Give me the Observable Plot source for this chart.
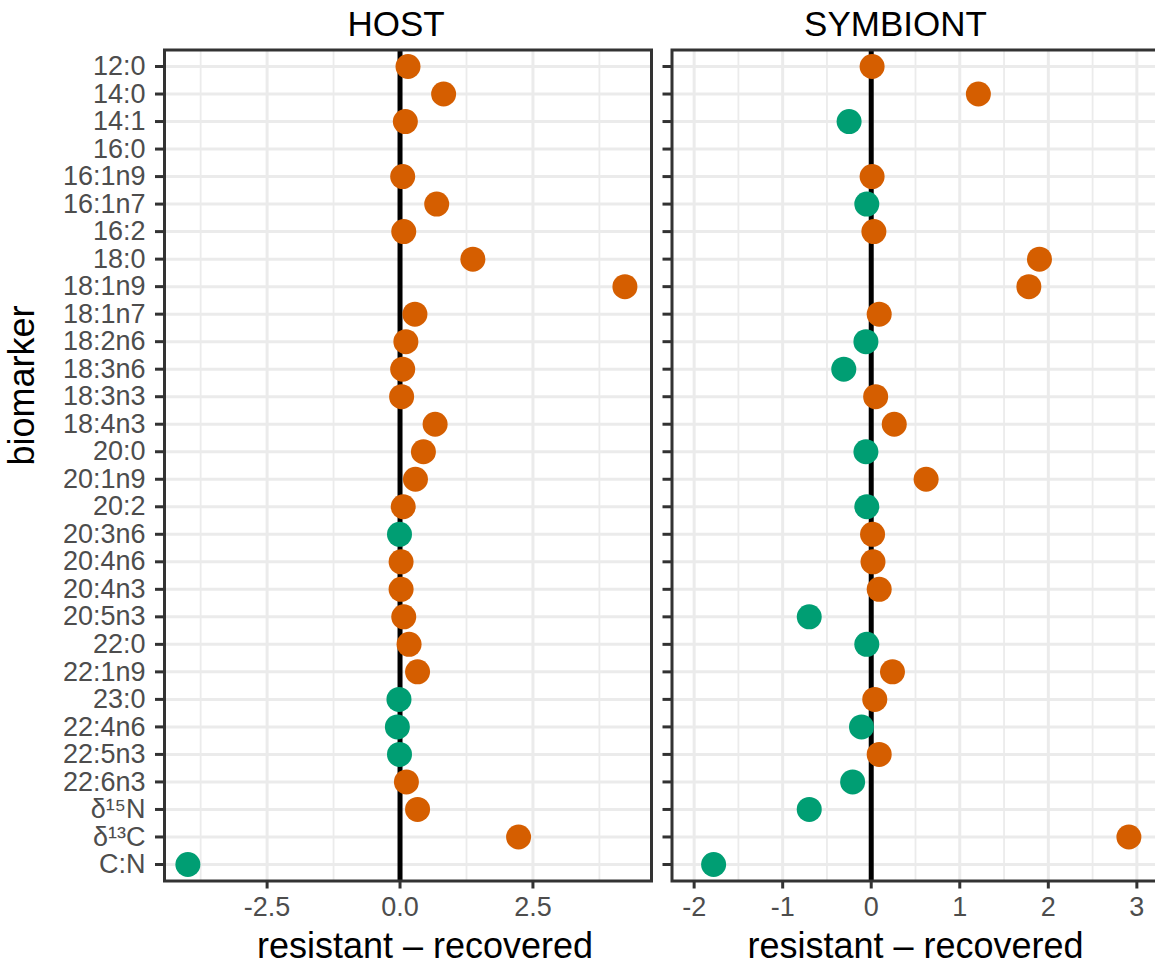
<!DOCTYPE html>
<html>
<head>
<meta charset="utf-8">
<script src="https://cdn.jsdelivr.net/npm/d3@7"></script>
<script src="https://cdn.jsdelivr.net/npm/@observablehq/plot@0.6"></script>
<style>
  html, body { margin: 0; padding: 0; background: #fff; overflow: hidden; }
  #wrap { position: relative; width: 1155px; height: 966px; overflow: hidden; background: #fff; }
  .panel { position: absolute; top: 0; height: 966px; }
  .panel svg { overflow: visible; max-width: none !important; }
  .panel [aria-label="y-axis tick label"], .panel [aria-label="x-axis tick label"] { fill: #4D4D4D; }
</style>
</head>
<body>
<div id="wrap">
  <div id="host" class="panel" style="left:0px; width:660px"></div>
  <div id="sym" class="panel" style="left:660px; width:505px"></div>
</div>
<script>
const biomarkers = ["12:0","14:0","14:1","16:0","16:1n9","16:1n7","16:2","18:0","18:1n9","18:1n7","18:2n6","18:3n6","18:3n3","18:4n3","20:0","20:1n9","20:2","20:3n6","20:4n6","20:4n3","20:5n3","22:0","22:1n9","23:0","22:4n6","22:5n3","22:6n3","δ¹⁵N","δ¹³C","C:N"];
const hostValues = [0.15,0.82,0.10,null,0.05,0.69,0.07,1.37,4.23,0.28,0.11,0.05,0.03,0.66,0.44,0.29,0.06,-0.01,0.02,0.02,0.07,0.17,0.33,-0.02,-0.05,-0.01,0.12,0.33,2.23,-3.99];
const symbiontValues = [0.01,1.21,-0.25,null,0.01,-0.05,0.03,1.90,1.78,0.09,-0.06,-0.31,0.05,0.26,-0.06,0.62,-0.05,0.015,0.02,0.09,-0.70,-0.05,0.24,0.04,-0.11,0.09,-0.21,-0.70,2.91,-1.78];
const panelTitles = ["HOST", "SYMBIONT"];
const xTitle = "resistant – recovered";
const yTitle = "biomarker";
const hostTicks = [-2.5, 0, 2.5];
const hostMinor = [-3.75, -1.25, 1.25, 3.75];
const symTicks = [-2, -1, 0, 1, 2, 3];
const symMinor = [-1.5, -0.5, 0.5, 1.5, 2.5];
const signCats = ["negative", "positive"];
const signColors = ["#009E73", "#D55E00"];

const FONT = "'Liberation Sans', Arial, Helvetica, sans-serif";

function makePanel({values, title, domain, ticks, minor, fmt, marginLeft, width, showYLabels, titleDx, xTitleDx}) {
  const data = biomarkers.map((b, i) => ({
    biomarker: b,
    value: values[i],
    sign: values[i] == null ? null : (values[i] < 0 ? "negative" : "positive")
  }));
  const marks = [
    Plot.ruleX(minor, {stroke: "#EBEBEB", strokeWidth: 1.8}),
    Plot.ruleX(ticks, {stroke: "#EBEBEB", strokeWidth: 3}),
    Plot.ruleY(biomarkers, {y: d => d, stroke: "#EBEBEB", strokeWidth: 3}),
    Plot.ruleX([0], {stroke: "black", strokeWidth: 5}),
    Plot.dot(data.filter(d => d.value != null), {x: "value", y: "biomarker", fill: "sign", r: 12.5}),
    Plot.frame({stroke: "#333333", strokeWidth: 3}),
    Plot.axisY({
      tickSize: 9, tickPadding: 10, stroke: "#333333", strokeWidth: 3,
      fontSize: 27, label: null,
      tickFormat: showYLabels ? (d => d) : (() => "")
    }),
    Plot.axisX({
      ticks: ticks, tickSize: 8, tickPadding: 8, stroke: "#333333", strokeWidth: 3,
      fontSize: 27, label: null, tickFormat: fmt
    }),
    Plot.text([title], {text: d => d, frameAnchor: "top", dy: -25, dx: titleDx, fontSize: 35, fill: "black", lineAnchor: "middle"}),
    Plot.text([xTitle], {text: d => d, frameAnchor: "bottom", dy: 65, dx: xTitleDx, fontSize: 36, fill: "black", lineAnchor: "middle"})
  ];
  if (showYLabels) {
    marks.push(Plot.text([yTitle], {text: d => d, frameAnchor: "left", dx: -142, rotate: -90, fontSize: 36, fill: "black", lineAnchor: "middle"}));
  }
  return Plot.plot({
    width: width,
    height: 966,
    marginLeft: marginLeft,
    marginRight: width - marginLeft - 487,
    marginTop: 49.5,
    marginBottom: 85.5,
    style: {fontFamily: FONT, fontSize: "27px", background: "transparent", overflow: "visible"},
    x: {domain: domain, axis: null},
    y: {type: "point", domain: biomarkers, padding: 0.6, round: false, axis: null},
    color: {domain: signCats, range: signColors, legend: false},
    marks
  });
}

document.getElementById("host").appendChild(makePanel({
  values: hostValues, title: panelTitles[0], domain: [-4.43, 4.73],
  ticks: hostTicks, minor: hostMinor, fmt: d => d.toFixed(1),
  marginLeft: 164, width: 660, showYLabels: true, titleDx: -12, xTitleDx: 17
}));
document.getElementById("sym").appendChild(makePanel({
  values: symbiontValues, title: panelTitles[1], domain: [-2.25, 3.25],
  ticks: symTicks, minor: symMinor, fmt: d => String(d),
  marginLeft: 11.5, width: 505, showYLabels: false, titleDx: -20, xTitleDx: 0
}));
</script>
</body>
</html>
